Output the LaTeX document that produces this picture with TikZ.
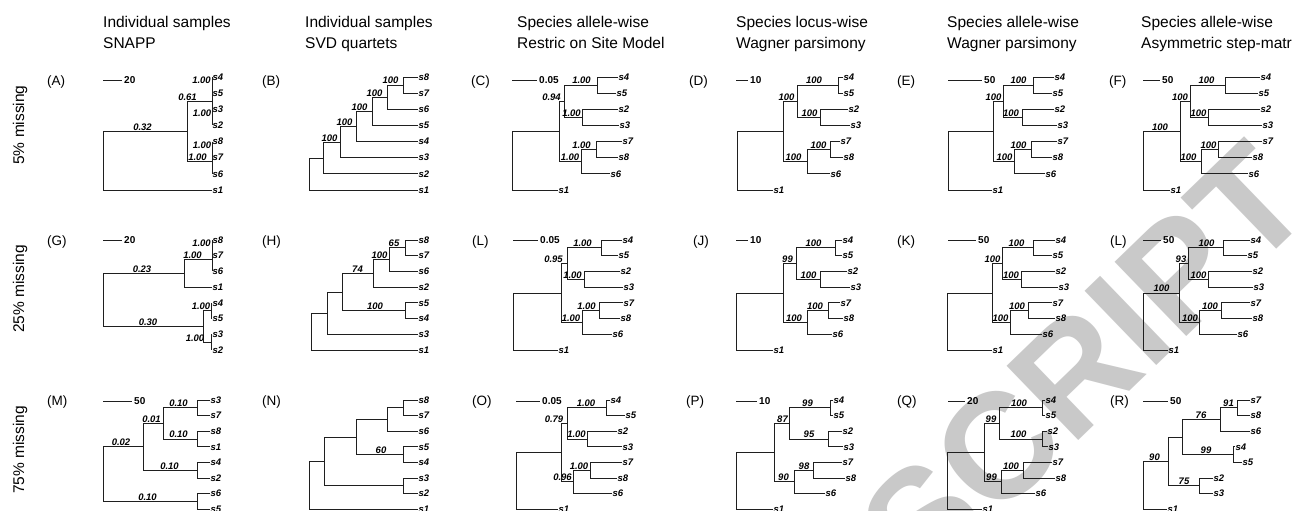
\documentclass[tikz,border=0pt]{standalone}
\usepackage{fontspec}
\setmainfont{Liberation Sans}
\tikzset{
 br/.style={line width=0.9pt, draw=black!88},
 tip/.style={anchor=west, inner sep=0.4pt, font=\fontsize{9.5}{10}\selectfont\bfseries\itshape},
 lab/.style={anchor=south, inner sep=0.8pt, font=\fontsize{9.5}{10}\selectfont\bfseries\itshape},
 sc/.style={anchor=west, inner sep=0.5pt, font=\fontsize{10}{11}\selectfont\bfseries},
 hdr/.style={anchor=base west, inner sep=0pt, font=\fontsize{15.5}{18}\selectfont},
 pl/.style={anchor=west, inner sep=0pt, font=\fontsize{13.5}{15}\selectfont},
 rowlab/.style={rotate=90, inner sep=0pt, font=\fontsize{15.5}{18}\selectfont},
 wm/.style={rotate=44, inner sep=0pt, text=gray!42, font=\fontsize{150}{155}\selectfont\bfseries},
}
\newcommand\rowys[8]{\def\Ya{#1}\def\Yb{#2}\def\Yc{#3}\def\Yd{#4}\def\Ye{#5}\def\Yf{#6}\def\Yg{#7}\def\Yh{#8}}
\newcommand\tipx[8]{\def\Xa{#1}\def\Xb{#2}\def\Xc{#3}\def\Xd{#4}\def\Xe{#5}\def\Xf{#6}\def\Xg{#7}\def\Xh{#8}}
% root, X, Y, n45, n23, Z, n78
\newcommand\ctree[7]{%
 \pgfmathsetmacro\yP{(\Ya+\Yb)/2}%
 \pgfmathsetmacro\yQ{(\Yc+\Yd)/2}%
 \pgfmathsetmacro\yY{(\yP+\yQ)/2}%
 \pgfmathsetmacro\yR{(\Ye+\Yf)/2}%
 \pgfmathsetmacro\yZ{(\yR+\Yg)/2}%
 \pgfmathsetmacro\yX{(\yY+\yZ)/2}%
 \draw[br] (\Xa,\Ya) -- (#4,\Ya) -- (#4,\Yb) -- (\Xb,\Yb);
 \draw[br] (\Xc,\Yc) -- (#5,\Yc) -- (#5,\Yd) -- (\Xd,\Yd);
 \draw[br] (#4,\yP) -- (#3,\yP) -- (#3,\yQ) -- (#5,\yQ);
 \draw[br] (\Xe,\Ye) -- (#7,\Ye) -- (#7,\Yf) -- (\Xf,\Yf);
 \draw[br] (#7,\yR) -- (#6,\yR) -- (#6,\Yg) -- (\Xg,\Yg);
 \draw[br] (#3,\yY) -- (#2,\yY) -- (#2,\yZ) -- (#6,\yZ);
 \draw[br] (#2,\yX) -- (#1,\yX) -- (#1,\Yh) -- (\Xh,\Yh);
 \node[tip] at (\Xa,\Ya) {s4};
 \node[tip] at (\Xb,\Yb) {s5};
 \node[tip] at (\Xc,\Yc) {s2};
 \node[tip] at (\Xd,\Yd) {s3};
 \node[tip] at (\Xe,\Ye) {s7};
 \node[tip] at (\Xf,\Yf) {s8};
 \node[tip] at (\Xg,\Yg) {s6};
 \node[tip] at (\Xh,\Yh) {s1};
}
\newcommand\bl[3]{\node[lab] at (#1,#2) {#3};}
\newcommand\sbar[4]{\draw[br] (#1,#3) -- (#2,#3); \node[sc] at (#2+1.5,#3) {#4};}
\begin{document}
\begin{tikzpicture}[x=1pt,y=-1pt]
\useasboundingbox (0,0) rectangle (1301,511);
\clip (0,0) rectangle (1301,511);
\fill[white] (0,0) rectangle (1301,511);
% watermark
\node[wm] (wmark) at (1084,364) {SCRIPT};
% headers
\node[hdr] (h1a) at (103,27.7) {Individual samples};
\node[hdr] (h1b) at (103,48.3) {SNAPP};
\node[hdr] (h2a) at (305,27.7) {Individual samples};
\node[hdr] (h2b) at (305,48.3) {SVD quartets};
\node[hdr] (h3a) at (517,27.7) {Species allele-wise};
\node[hdr] (h3b) at (517,48.3) {Restric on Site Model};
\node[hdr] (h4a) at (736,27.7) {Species locus-wise};
\node[hdr] (h4b) at (736,48.3) {Wagner parsimony};
\node[hdr] (h5a) at (947,27.7) {Species allele-wise};
\node[hdr] (h5b) at (947,48.3) {Wagner parsimony};
\node[hdr] (h6a) at (1141,27.7) {Species allele-wise};
\node[hdr] (h6b) at (1141,48.3) {Asymmetric step-matr};
% row labels
\node[rowlab] (r1) at (20,125) {5\% missing};
\node[rowlab] (r2) at (20,289) {25\% missing};
\node[rowlab] (r3) at (20,450) {75\% missing};
% panel letters
\node[pl] at (47,82.5) {(A)};
\node[pl] at (262,82.5) {(B)};
\node[pl] at (471,82.5) {(C)};
\node[pl] at (689,82.5) {(D)};
\node[pl] at (897,82.5) {(E)};
\node[pl] at (1109,82.5) {(F)};
\node[pl] at (47,242.5) {(G)};
\node[pl] at (262,242.5) {(H)};
\node[pl] at (472,242.5) {(L)};
\node[pl] at (693,242.5) {(J)};
\node[pl] at (897,242.5) {(K)};
\node[pl] at (1110,242.5) {(L)};
\node[pl] at (47,402.5) {(M)};
\node[pl] at (262,402.5) {(N)};
\node[pl] at (472,402.5) {(O)};
\node[pl] at (686,402.5) {(P)};
\node[pl] at (897,402.5) {(Q)};
\node[pl] at (1110,402.5) {(R)};

%%%%%%%% ROW 1
% Tree A
\sbar{103}{122}{80}{20}
\draw[br] (212,77) -- (212,125.4);
\draw[br] (212,141.6) -- (212,173.9);
\draw[br] (212,101.2) -- (187,101.2) -- (187,161.8) -- (212,161.8);
\draw[br] (187,131.5) -- (103,131.5) -- (103,190) -- (212,190);
\foreach \t/\y in {s4/77,s5/93.1,s3/109.3,s2/125.4,s8/141.6,s7/157.7,s6/173.9,s1/190}
  \node[tip] at (212,\y) {\t};
\bl{201.5}{85.05}{1.00}
\bl{187.5}{101.2}{0.61}
\bl{202}{117.35}{1.00}
\bl{142.5}{131.5}{0.32}
\bl{202}{149.65}{1.00}
\bl{197.5}{161.8}{1.00}
% Tree B
\draw[br] (418,77) -- (403,77) -- (403,93.1) -- (418,93.1);
\draw[br] (403,85.05) -- (387,85.05) -- (387,109.3) -- (418,109.3);
\draw[br] (387,97.2) -- (372,97.2) -- (372,125.4) -- (418,125.4);
\draw[br] (372,111.3) -- (356,111.3) -- (356,141.6) -- (418,141.6);
\draw[br] (356,126.45) -- (340,126.45) -- (340,157.7) -- (418,157.7);
\draw[br] (340,142.1) -- (323,142.1) -- (323,173.9) -- (418,173.9);
\draw[br] (323,158) -- (309,158) -- (309,190) -- (418,190);
\foreach \t/\y in {s8/77,s7/93.1,s6/109.3,s5/125.4,s4/141.6,s3/157.7,s2/173.9,s1/190}
  \node[tip] at (418,\y) {\t};
\bl{390.5}{85.05}{100}
\bl{374.5}{97.2}{100}
\bl{359.5}{111.3}{100}
\bl{344.5}{126.45}{100}
\bl{329.5}{142.1}{100}
% C-type trees row 1
\rowys{77}{93.1}{109.3}{125.4}{141.6}{157.7}{173.9}{190}
% Tree C
\sbar{512}{537}{80}{0.05}
\tipx{618}{616}{618}{619}{622}{618}{610}{558}
\ctree{512}{559.5}{564}{597}{582}{581}{596}
\bl{581.5}{\yP}{1.00}\bl{551.5}{\yY}{0.94}\bl{571.5}{\yQ}{1.00}\bl{581.5}{\yR}{1.00}\bl{570}{\yZ}{1.00}
% Tree D
\sbar{736}{748}{80}{10}
\tipx{843}{843}{848}{850}{840}{843}{830}{773}
\ctree{737}{783}{797}{838}{820}{807}{830}
\bl{814}{\yP}{100}\bl{786.5}{\yY}{100}\bl{809.5}{\yQ}{100}\bl{818.5}{\yR}{100}\bl{793.5}{\yZ}{100}
% Tree E
\sbar{948}{982}{80}{50}
\tipx{1054}{1052}{1054}{1057}{1057}{1052}{1045}{992}
\ctree{948}{993}{1003}{1033}{1022}{1014}{1031}
\bl{1018.5}{\yP}{100}\bl{993.5}{\yY}{100}\bl{1011}{\yQ}{100}\bl{1018.5}{\yR}{100}\bl{1004.5}{\yZ}{100}
% Tree F
\sbar{1143}{1160}{80}{50}
\tipx{1260}{1258}{1260}{1262}{1262}{1252}{1248}{1170}
\ctree{1143}{1180}{1190}{1225}{1208}{1201}{1218}
\bl{1206.5}{\yP}{100}\bl{1180}{\yY}{100}\bl{1198.5}{\yQ}{100}\bl{1208.5}{\yR}{100}\bl{1188.5}{\yZ}{100}\bl{1160}{\yX}{100}

%%%%%%%% ROW 2
% Tree G
\sbar{103}{122}{240}{20}
\draw[br] (212,240) -- (212,271.4);
\draw[br] (212,259.6) -- (184,259.6) -- (184,287.1) -- (212,287.1);
\draw[br] (211,302.9) -- (211,318.6);
\draw[br] (211,334.3) -- (211,350);
\draw[br] (211,310.75) -- (203,310.75) -- (203,342.15) -- (211,342.15);
\draw[br] (184,273.35) -- (103,273.35) -- (103,326.45) -- (203,326.45);
\foreach \t/\y in {s8/240,s7/255.7,s6/271.4,s1/287.1,s4/302.9,s5/318.6,s3/334.3,s2/350}
  \node[tip] at (212,\y) {\t};
\bl{201.5}{247.85}{1.00}
\bl{192.5}{259.6}{1.00}
\bl{142}{273.35}{0.23}
\bl{201}{310.75}{1.00}
\bl{148}{326.45}{0.30}
\bl{195}{342.15}{1.00}
% Tree H
\draw[br] (418,240) -- (405,240) -- (405,255.7) -- (418,255.7);
\draw[br] (405,247.85) -- (389,247.85) -- (389,271.4) -- (418,271.4);
\draw[br] (389,259.6) -- (373,259.6) -- (373,287.1) -- (418,287.1);
\draw[br] (418,302.9) -- (405,302.9) -- (405,318.6) -- (418,318.6);
\draw[br] (373,273.35) -- (342,273.35) -- (342,310.75) -- (405,310.75);
\draw[br] (342,292.05) -- (327,292.05) -- (327,334.3) -- (418,334.3);
\draw[br] (327,313.2) -- (311,313.2) -- (311,350) -- (418,350);
\foreach \t/\y in {s8/240,s7/255.7,s6/271.4,s2/287.1,s5/302.9,s4/318.6,s3/334.3,s1/350}
  \node[tip] at (418,\y) {\t};
\bl{394}{247.85}{65}
\bl{379.5}{259.6}{100}
\bl{357.5}{273.35}{74}
\bl{375}{310.75}{100}
% C-type trees row 2
\rowys{240}{255.7}{271.4}{287.1}{302.9}{318.6}{334.3}{350}
% Tree L (col 3)
\sbar{513}{538}{240}{0.05}
\tipx{622}{618}{620}{623}{623}{620}{612}{558}
\ctree{513}{561}{567}{601}{584}{582}{599}
\bl{582.5}{\yP}{1.00}\bl{553.5}{\yY}{0.95}\bl{572.5}{\yQ}{1.00}\bl{586.5}{\yR}{1.00}\bl{571}{\yZ}{1.00}
% Tree J
\sbar{736}{748}{240}{10}
\tipx{842}{842}{847}{850}{840}{843}{832}{773}
\ctree{736}{783}{796}{835}{820}{807}{828}
\bl{813.5}{\yP}{100}\bl{787.5}{\yY}{99}\bl{808.5}{\yQ}{100}\bl{815}{\yR}{100}\bl{794}{\yZ}{100}
% Tree K
\sbar{948}{976}{240}{50}
\tipx{1055}{1052}{1055}{1058}{1052}{1055}{1042}{992}
\ctree{947}{992}{1002}{1033}{1021}{1010}{1028}
\bl{1016.5}{\yP}{100}\bl{992.5}{\yY}{100}\bl{1011}{\yQ}{100}\bl{1017}{\yR}{100}\bl{1000.5}{\yZ}{100}
% Tree L (col 6)
\sbar{1143}{1161}{240}{50}
\tipx{1250}{1247}{1252}{1253}{1250}{1252}{1237}{1168}
\ctree{1143}{1179}{1188}{1223}{1208}{1199}{1221}
\bl{1206.5}{\yP}{100}\bl{1181}{\yY}{93}\bl{1198.5}{\yQ}{100}\bl{1210}{\yR}{100}\bl{1190}{\yZ}{100}\bl{1161.5}{\yX}{100}

%%%%%%%% ROW 3
% Tree M
\sbar{103}{132}{401}{50}
\draw[br] (210,400) -- (197,400) -- (197,415.6) -- (210,415.6);
\draw[br] (210,431.2) -- (197,431.2) -- (197,446.8) -- (210,446.8);
\draw[br] (197,407.8) -- (163,407.8) -- (163,439) -- (197,439);
\draw[br] (210,462.4) -- (197,462.4) -- (197,478) -- (210,478);
\draw[br] (163,423.4) -- (143,423.4) -- (143,470.2) -- (197,470.2);
\draw[br] (210,493.6) -- (197,493.6) -- (197,509.2) -- (210,509.2);
\draw[br] (143,446.8) -- (103,446.8) -- (103,501.4) -- (197,501.4);
\foreach \t/\y in {s3/400,s7/415.6,s8/431.2,s1/446.8,s4/462.4,s2/478,s6/493.6,s5/509.2}
  \node[tip] at (210,\y) {\t};
\bl{178.5}{407.8}{0.10}
\bl{178.5}{439}{0.10}
\bl{151.5}{423.4}{0.01}
\bl{169.5}{470.2}{0.10}
\bl{121}{446.8}{0.02}
\bl{147.5}{501.4}{0.10}
% Tree N
\draw[br] (418,400) -- (403,400) -- (403,415.6) -- (418,415.6);
\draw[br] (403,407.8) -- (387,407.8) -- (387,431.2) -- (418,431.2);
\draw[br] (418,446.8) -- (403,446.8) -- (403,462.4) -- (418,462.4);
\draw[br] (387,419.5) -- (356,419.5) -- (356,454.6) -- (403,454.6);
\draw[br] (418,478) -- (403,478) -- (403,493.6) -- (418,493.6);
\draw[br] (356,437.05) -- (324,437.05) -- (324,485.8) -- (403,485.8);
\draw[br] (324,461.4) -- (309,461.4) -- (309,509.2) -- (418,509.2);
\foreach \t/\y in {s8/400,s7/415.6,s6/431.2,s5/446.8,s4/462.4,s3/478,s2/493.6,s1/509.2}
  \node[tip] at (418,\y) {\t};
\bl{381}{454.6}{60}
% C-type trees row 3
\rowys{400}{415.6}{431.2}{446.8}{462.4}{478}{493.6}{509.2}
% Tree O
\sbar{516}{540}{401}{0.05}
\tipx{610}{625}{617}{622}{622}{617}{612}{558}
\ctree{516}{561}{567}{606}{587}{573}{590}
\bl{586}{\yP}{1.00}\bl{554}{\yY}{0.79}\bl{576.5}{\yQ}{1.00}\bl{579}{\yR}{1.00}\bl{562.5}{\yZ}{0.96}
% Tree P
\sbar{736}{757}{401}{10}
\tipx{833}{833}{842}{843}{842}{845}{825}{773}
\ctree{736}{774}{789}{830}{828}{794}{813}
\bl{807.5}{\yP}{99}\bl{782.5}{\yY}{87}\bl{809}{\yQ}{95}\bl{804}{\yR}{98}\bl{783.5}{\yZ}{90}
% Tree Q
\sbar{948}{965}{401}{20}
\tipx{1045}{1045}{1047}{1048}{1052}{1055}{1035}{982}
\ctree{947}{984}{999}{1042}{1042}{1001}{1023}
\bl{1019}{\yP}{100}\bl{991}{\yY}{99}\bl{1018.5}{\yQ}{100}\bl{1011}{\yR}{100}\bl{991.5}{\yZ}{99}
% Tree R
\sbar{1143}{1168}{401}{50}
\draw[br] (1250,400) -- (1237,400) -- (1237,415.6) -- (1250,415.6);
\draw[br] (1237,407.8) -- (1220,407.8) -- (1220,431.2) -- (1250,431.2);
\draw[br] (1235,446.8) -- (1233,446.8) -- (1233,462.4) -- (1242,462.4);
\draw[br] (1220,419.5) -- (1182,419.5) -- (1182,454.6) -- (1233,454.6);
\draw[br] (1213,478) -- (1199,478) -- (1199,493.6) -- (1213,493.6);
\draw[br] (1182,437.05) -- (1168,437.05) -- (1168,485.8) -- (1199,485.8);
\draw[br] (1168,461.4) -- (1143,461.4) -- (1143,509.2) -- (1167,509.2);
\foreach \t/\x/\y in {s7/1250/400,s8/1250/415.6,s6/1250/431.2,s4/1235/446.8,s5/1242/462.4,s2/1213/478,s3/1213/493.6,s1/1167/509.2}
  \node[tip] at (\x,\y) {\t};
\bl{1228.5}{407.8}{91}
\bl{1201}{419.5}{76}
\bl{1206}{454.6}{99}
\bl{1184}{485.8}{75}
\bl{1154.5}{461.4}{90}
\end{tikzpicture}
\end{document}
